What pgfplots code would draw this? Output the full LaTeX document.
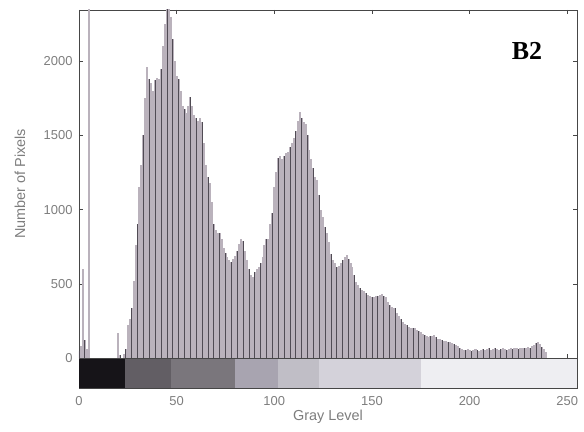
\documentclass[border=0pt]{standalone}
\usepackage{pgfplots}
\pgfplotsset{compat=1.18}
\usepackage{pgfplotstable}
\usepackage{fontspec}
\setmainfont{Liberation Sans}
\newfontfamily\titlefont{Liberation Serif}

\definecolor{barfill}{RGB}{186,178,188}
\definecolor{barline}{RGB}{80,75,84}
\definecolor{frame}{RGB}{70,70,70}
\definecolor{labelgray}{RGB}{125,125,125}

% pixel counts per gray level (0..255)
\pgfplotstableread[row sep=\\]{
g n\\
0 50\\ 1 80\\ 2 600\\ 3 120\\ 4 60\\ 5 2400\\ 6 0\\ 7 0\\ 8 0\\ 9 0\\
10 0\\ 11 0\\ 12 0\\ 13 0\\ 14 0\\ 15 0\\ 16 0\\ 17 0\\ 18 0\\ 19 0\\
20 170\\ 21 20\\ 22 0\\ 23 30\\ 24 60\\ 25 220\\ 26 260\\ 27 340\\ 28 520\\ 29 760\\
30 900\\ 31 1150\\ 32 1300\\ 33 1500\\ 34 1750\\ 35 1960\\ 36 1880\\ 37 1850\\ 38 1800\\ 39 1870\\
40 1890\\ 41 1880\\ 42 1950\\ 43 2100\\ 44 2250\\ 45 2400\\ 46 2380\\ 47 2300\\ 48 2150\\ 49 2000\\
50 1900\\ 51 1880\\ 52 1800\\ 53 1700\\ 54 1680\\ 55 1650\\ 56 1700\\ 57 1760\\ 58 1700\\ 59 1640\\
60 1620\\ 61 1600\\ 62 1615\\ 63 1590\\ 64 1450\\ 65 1300\\ 66 1220\\ 67 1180\\ 68 1050\\ 69 900\\
70 860\\ 71 840\\ 72 840\\ 73 800\\ 74 740\\ 75 710\\ 76 680\\ 77 660\\ 78 650\\ 79 670\\
80 690\\ 81 720\\ 82 770\\ 83 800\\ 84 790\\ 85 720\\ 86 660\\ 87 600\\ 88 560\\ 89 545\\
90 580\\ 91 600\\ 92 615\\ 93 640\\ 94 680\\ 95 760\\ 96 800\\ 97 800\\ 98 900\\ 99 980\\
100 1150\\ 101 1250\\ 102 1350\\ 103 1360\\ 104 1340\\ 105 1360\\ 106 1380\\ 107 1390\\ 108 1420\\ 109 1450\\
110 1480\\ 111 1530\\ 112 1600\\ 113 1660\\ 114 1620\\ 115 1590\\ 116 1580\\ 117 1500\\ 118 1400\\ 119 1340\\
120 1280\\ 121 1220\\ 122 1200\\ 123 1100\\ 124 1000\\ 125 950\\ 126 880\\ 127 840\\ 128 780\\ 129 700\\
130 660\\ 131 640\\ 132 615\\ 133 620\\ 134 640\\ 135 660\\ 136 680\\ 137 695\\ 138 670\\ 139 640\\
140 615\\ 141 560\\ 142 510\\ 143 490\\ 144 470\\ 145 460\\ 146 450\\ 147 435\\ 148 425\\ 149 415\\
150 410\\ 151 410\\ 152 415\\ 153 420\\ 154 425\\ 155 430\\ 156 420\\ 157 410\\ 158 380\\ 159 355\\
160 345\\ 161 340\\ 162 335\\ 163 300\\ 164 280\\ 165 260\\ 166 245\\ 167 230\\ 168 220\\ 169 210\\
170 205\\ 171 200\\ 172 200\\ 173 190\\ 174 180\\ 175 175\\ 176 165\\ 177 155\\ 178 145\\ 179 140\\
180 145\\ 181 150\\ 182 155\\ 183 140\\ 184 130\\ 185 125\\ 186 120\\ 187 115\\ 188 112\\ 189 110\\
190 110\\ 191 100\\ 192 95\\ 193 90\\ 194 80\\ 195 70\\ 196 60\\ 197 55\\ 198 55\\ 199 60\\
200 55\\ 201 50\\ 202 55\\ 203 60\\ 204 55\\ 205 50\\ 206 55\\ 207 60\\ 208 55\\ 209 60\\
210 65\\ 211 55\\ 212 60\\ 213 65\\ 214 60\\ 215 55\\ 216 60\\ 217 65\\ 218 60\\ 219 55\\
220 60\\ 221 65\\ 222 60\\ 223 65\\ 224 70\\ 225 60\\ 226 65\\ 227 70\\ 228 65\\ 229 70\\
230 75\\ 231 70\\ 232 80\\ 233 90\\ 234 100\\ 235 105\\ 236 95\\ 237 75\\ 238 60\\ 239 40\\
240 0\\ 241 0\\ 242 0\\ 243 0\\ 244 0\\ 245 0\\ 246 0\\ 247 0\\ 248 0\\ 249 0\\
250 0\\ 251 0\\ 252 0\\ 253 0\\ 254 0\\ 255 0\\
}\histdata

\pgfplotsset{
  histstyle/.style={
    scale only axis,
    width=498bp,
    xmin=0, xmax=255,
    axis line style={frame, line width=0.6bp},
    tick style={frame, line width=0.5bp},
    major tick length=4bp,
    tick align=inside,
    ticklabel style={font=\fontsize{13}{15}\selectfont, text=labelgray},
    label style={font=\fontsize{14.5}{17}\selectfont, text=labelgray},
    /pgf/number format/assume math mode=true,
    /pgf/number format/1000 sep={},
  }
}

\begin{document}
\begin{tikzpicture}
% gray-level strip under the histogram
\begin{axis}[histstyle,
  at={(0,0)}, anchor=south west,
  height=30bp,
  ymin=0, ymax=1, ytick=\empty,
  xtick={0,50,...,250},
  xticklabel style={anchor=center, yshift=-13bp},
  xlabel={Gray Level},
  xlabel style={at={(axis description cs:0.5,-0.967)}, anchor=center},
]
\addplot[fill={rgb,255:red,22;green,20;blue,24}, draw=none] coordinates {(0,1) (23.5,1)} \closedcycle;
\addplot[fill={rgb,255:red,98;green,94;blue,100}, draw=none] coordinates {(23.5,1) (47,1)} \closedcycle;
\addplot[fill={rgb,255:red,122;green,118;blue,124}, draw=none] coordinates {(47,1) (80,1)} \closedcycle;
\addplot[fill={rgb,255:red,168;green,164;blue,176}, draw=none] coordinates {(80,1) (102,1)} \closedcycle;
\addplot[fill={rgb,255:red,192;green,190;blue,198}, draw=none] coordinates {(102,1) (123,1)} \closedcycle;
\addplot[fill={rgb,255:red,212;green,210;blue,218}, draw=none] coordinates {(123,1) (175,1)} \closedcycle;
\addplot[fill={rgb,255:red,238;green,238;blue,242}, draw=none] coordinates {(175,1) (255,1)} \closedcycle;
\end{axis}

% histogram
\begin{axis}[histstyle,
  at={(0,30bp)}, anchor=south west,
  height=348bp,
  ymin=0, ymax=2345,
  xtick={0,50,...,250}, xticklabels={},
  ytick={0,500,...,2000},
  yticklabel style={anchor=east, xshift=-3bp},
  ylabel={Number of Pixels},
  ylabel style={at={(axis description cs:-0.1185,0.5)}, anchor=center},
  clip=true,
]
\addplot[ycomb, barfill, line width=2.1bp, mark=none] table[x=g, y=n] {\histdata};
\addplot[ycomb, barline, line width=0.75bp, mark=none, each nth point=3] table[x=g, y=n] {\histdata};
\node[font=\titlefont\bfseries\fontsize{26}{28}\selectfont, text=black] at (axis cs:229.4,2067) {B2};
\end{axis}

\pgfresetboundingbox
\path[use as bounding box] (-79bp,-44bp) rectangle (505bp,388bp);
\end{tikzpicture}
\end{document}
